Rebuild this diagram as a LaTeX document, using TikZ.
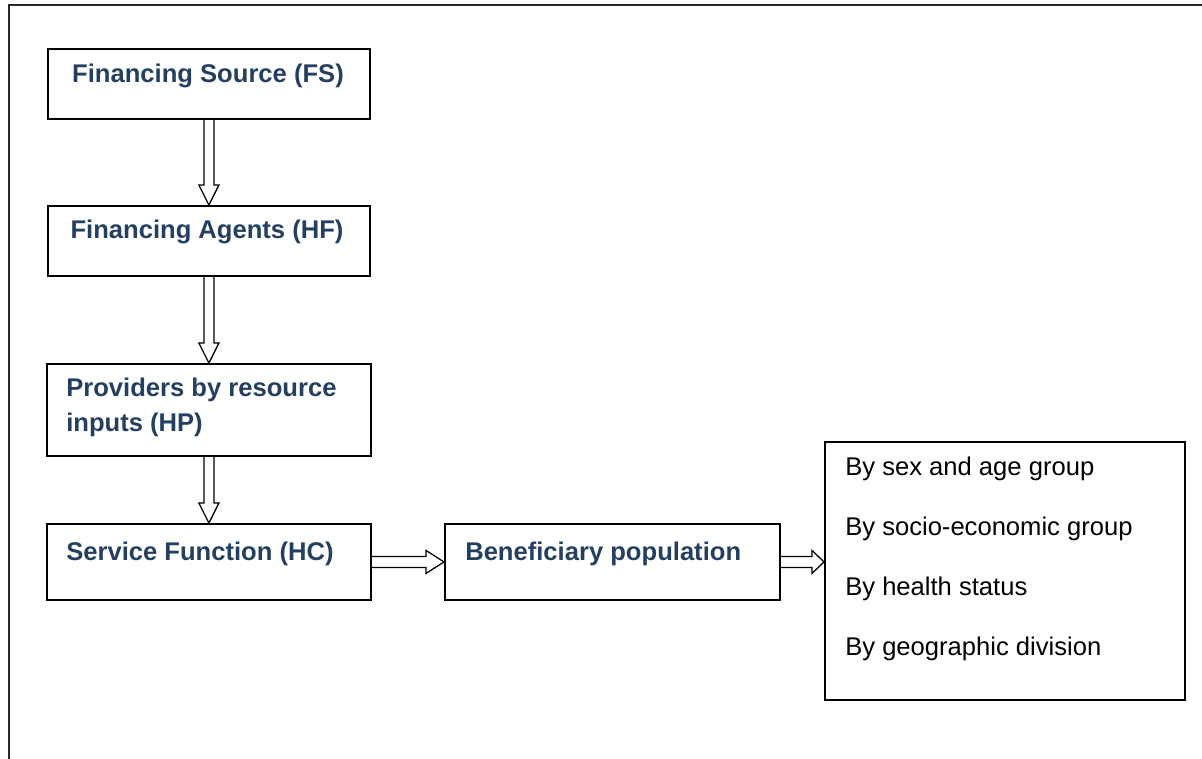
\documentclass[tikz,border=0pt]{standalone}
\usepackage{fontspec}
\setmainfont{Liberation Sans}
\usetikzlibrary{calc}
\definecolor{azuloscuro}{RGB}{36,63,96}
\newcommand{\px}{0.025cm}
% flecha hueca hacia abajo
\newcommand{\flechaabajo}[2]{%
  \draw[flecha] ($(#1.south)+(-5,0)$) -- ($(#2.north)+(-5,-20)$) -- ($(#2.north)+(-10,-20)$)
    -- (#2.north) -- ($(#2.north)+(10,-20)$) -- ($(#2.north)+(5,-20)$) -- ($(#1.south)+(5,0)$);}
% flecha hueca hacia la derecha
\newcommand{\flechaderecha}[3]{%
  \coordinate (punta) at (#1.east -| #2.west);
  \draw[flecha] ($(#1.east)+(0,-5.5)$) -- ($(punta)+(-#3,-5.5)$) -- ($(punta)+(-#3,-11.5)$)
    -- (punta) -- ($(punta)+(-#3,11.5)$) -- ($(punta)+(-#3,5.5)$) -- ($(#1.east)+(0,5.5)$);}
\begin{document}
\begin{tikzpicture}[x=0.025cm,y=-0.025cm,
    caja/.style={draw,line width=1.3pt,anchor=north west,inner sep=0pt},
    flecha/.style={draw,line width=0.9pt,line join=miter},
    titulo/.style={font=\fontsize{18.2}{24.8}\selectfont\bfseries,text=azuloscuro,inner sep=0pt,align=left},
    texto/.style={font=\fontsize{18.2}{42.5}\selectfont,inner sep=0pt,align=left}]
  \useasboundingbox (0,0) rectangle (1202,758);
  \clip (0,0) rectangle (1202,758);

  % Marco exterior
  \draw[line width=1.6pt,black!85] (9,5) rectangle (1230,790);

  % Cajas
  \node[caja,minimum width=322*\px,minimum height=70*\px] (fs) at (47,48) {};
  \node[caja,minimum width=322*\px,minimum height=70*\px] (hf) at (47,205) {};
  \node[caja,minimum width=324*\px,minimum height=92*\px] (hp) at (46,363) {};
  \node[caja,minimum width=324*\px,minimum height=76*\px] (hc) at (46,523) {};
  \node[caja,minimum width=335*\px,minimum height=76*\px] (ben) at (444,523) {};
  \node[caja,minimum width=360*\px,minimum height=258*\px] (grp) at (824,441) {};

  % Textos de las cajas (ancla en la linea base de la ultima linea)
  \node[titulo,anchor=base] (fstxt) at (208,82) {Financing Source (FS)};
  \node[titulo,anchor=base] (hftxt) at (207,238) {Financing Agents (HF)};
  \node[titulo,anchor=base west] (hptxt) at (66,431) {Providers by resource\\inputs (HP)};
  \node[titulo,anchor=base west] (hctxt) at (66,560) {Service Function (HC)};
  \node[titulo,anchor=base west] (bentxt) at (465,560) {Beneficiary population};
  \node[texto,anchor=base west] (grptxt) at (845,655) {By sex and age group\\By socio-economic group\\By health status\\By geographic division};

  % Flechas
  \flechaabajo{fs}{hf}
  \flechaabajo{hf}{hp}
  \flechaabajo{hp}{hc}
  \flechaderecha{hc}{ben}{18}
  \flechaderecha{ben}{grp}{12}
\end{tikzpicture}
\end{document}
